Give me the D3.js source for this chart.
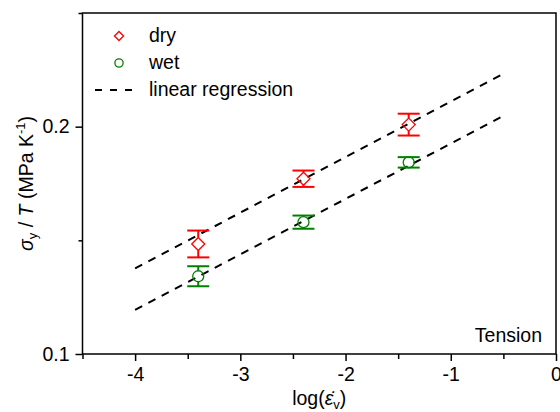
<!DOCTYPE html>
<html lang="en">
<head>
<meta charset="UTF-8" />
<title>Yield stress over temperature vs strain rate</title>
<script src="https://d3js.org/d3.v7.min.js"></script>
<style>
    body { margin: 0; background: #fff; }
    svg text { font-family: "Liberation Sans", Arial, sans-serif; fill: #000; }
</style>
</head>
<body>
<div id="chart"></div>
<script>
// values
var logRate = [-3.4, -2.4, -1.4];
var dryVal = [0.1484, 0.1771, 0.2009];
var dryErr = [0.0059, 0.0036, 0.0048];
var wetVal = [0.1342, 0.1580, 0.1843];
var wetErr = [0.0044, 0.0029, 0.0023];

// regression lines, endpoints in data units
var fitX = [-4, -0.5];
var dryFit = [0.1377, 0.2233];
var wetFit = [0.1194, 0.2048];

var xMajor = [-4, -3, -2, -1, 0];
var xMinor = [-4.5, -3.5, -2.5, -1.5, -0.5];
var yMajor = [0.1, 0.2];
var yMinor = [0.15, 0.25];

var width = 560, height = 412;
var pLeft = 82.5, pRight = 556, pTop = 13, pBottom = 354;
var fs = "19.5px";

var svg = d3.select("#chart").append("svg")
    .attr("width", width)
    .attr("height", height);

var x = d3.scaleLinear().domain([-4.5, 0]).range([pLeft, pRight]);
var y = d3.scaleLinear().domain([0.1, 0.25]).range([pBottom, pTop]);

// axes
svg.append("g").attr("transform", "translate(0," + pBottom + ")")
    .call(d3.axisBottom(x).tickValues(xMajor).tickSize(7).tickPadding(6)
        .tickFormat(function(d) { return String(d); }));
svg.append("g").attr("transform", "translate(0," + pBottom + ")")
    .call(d3.axisBottom(x).tickValues(xMinor).tickSize(5).tickFormat(""));
svg.append("g").attr("transform", "translate(" + pLeft + ",0)")
    .call(d3.axisLeft(y).tickValues(yMajor).tickSize(7).tickPadding(6)
        .tickFormat(function(d) { return d.toFixed(1); }));
svg.append("g").attr("transform", "translate(" + pLeft + ",0)")
    .call(d3.axisLeft(y).tickValues(yMinor).tickSize(4).tickFormat(""));

svg.selectAll(".domain").remove();
svg.selectAll(".tick line").attr("stroke", "#000").attr("stroke-width", 1.5);
svg.selectAll(".tick text").style("font-size", fs).attr("fill", "#000");

// frame
svg.append("rect")
    .attr("x", pLeft).attr("y", pTop)
    .attr("width", pRight - pLeft).attr("height", pBottom - pTop)
    .attr("fill", "none").attr("stroke", "#000").attr("stroke-width", 1.5);

// regression lines
function fitLine(vals) {
    svg.append("line")
        .attr("x1", x(fitX[0])).attr("y1", y(vals[0]))
        .attr("x2", x(fitX[1])).attr("y2", y(vals[1]))
        .attr("stroke", "#000").attr("stroke-width", 2)
        .attr("stroke-dasharray", "8,7");
}
fitLine(dryFit);
fitLine(wetFit);

// error bars + markers
function series(vals, errs, color, gap, marker) {
    var cap = 11;
    vals.forEach(function(v, i) {
        var cx = x(logRate[i]), cy = y(v);
        var yt = y(v + errs[i]), yb = y(v - errs[i]);
        var g = svg.append("g").attr("stroke", color).attr("stroke-width", 2);
        g.append("line").attr("x1", cx - cap).attr("x2", cx + cap).attr("y1", yt).attr("y2", yt);
        g.append("line").attr("x1", cx - cap).attr("x2", cx + cap).attr("y1", yb).attr("y2", yb);
        if (yt < cy - gap) g.append("line").attr("x1", cx).attr("x2", cx).attr("y1", yt).attr("y2", cy - gap);
        if (yb > cy + gap) g.append("line").attr("x1", cx).attr("x2", cx).attr("y1", cy + gap).attr("y2", yb);
        marker(cx, cy, 1);
    });
}

function diamond(cx, cy, s) {
    var r = 6.5 * s;
    svg.append("path")
        .attr("d", "M" + cx + "," + (cy - r) + "L" + (cx + r) + "," + cy + "L" + cx + "," + (cy + r) + "L" + (cx - r) + "," + cy + "Z")
        .attr("fill", "none").attr("stroke", "#ff0000").attr("stroke-width", 1.3);
}
function ring(cx, cy, s) {
    svg.append("circle").attr("cx", cx).attr("cy", cy).attr("r", 5.5 * s)
        .attr("fill", "none").attr("stroke", "#008000").attr("stroke-width", 1.3);
}

series(dryVal, dryErr, "#ff0000", 6.5, diamond);
series(wetVal, wetErr, "#008000", 5.5, ring);

// legend
diamond(119, 36, 0.7);
ring(119, 63, 0.75);
svg.append("line").attr("x1", 95).attr("x2", 136).attr("y1", 90).attr("y2", 90)
    .attr("stroke", "#000").attr("stroke-width", 2).attr("stroke-dasharray", "7,8");
[["dry", 42], ["wet", 69], ["linear regression", 96]].forEach(function(d) {
    svg.append("text").attr("x", 149).attr("y", d[1]).style("font-size", fs).text(d[0]);
});

// corner note
svg.append("text").attr("x", 542).attr("y", 342).attr("text-anchor", "end")
    .style("font-size", fs).text("Tension");

// axis titles
var xt = svg.append("text").attr("x", (pLeft + pRight) / 2).attr("y", 405)
    .attr("text-anchor", "middle").style("font-size", fs);
xt.append("tspan").text("log(");
xt.append("tspan").style("font-style", "italic").text("\u03B5\u0307");
xt.append("tspan").attr("dy", 4).style("font-size", "13px").text("v");
xt.append("tspan").attr("dy", -4).text(")");

var yt = svg.append("text")
    .attr("transform", "translate(33," + ((pTop + pBottom) / 2) + ") rotate(-90)")
    .attr("text-anchor", "middle").style("font-size", fs);
yt.append("tspan").style("font-style", "italic").text("\u03C3");
yt.append("tspan").attr("dy", 4).style("font-size", "13px").text("y");
yt.append("tspan").attr("dy", -4).text(" / ");
yt.append("tspan").style("font-style", "italic").text("T");
yt.append("tspan").text(" (MPa K");
yt.append("tspan").attr("dy", -8).style("font-size", "13px").text("-1");
yt.append("tspan").attr("dy", 8).text(")");
</script>
</body>
</html>
